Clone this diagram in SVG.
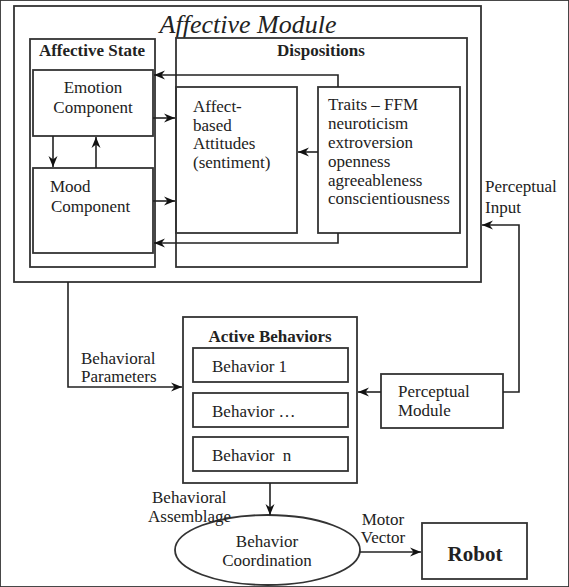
<svg xmlns="http://www.w3.org/2000/svg" width="569" height="587" viewBox="0 0 569 587" font-family="'Liberation Serif', 'DejaVu Serif', serif">
<style>
rect,ellipse{fill:none;stroke:#333;stroke-width:1.8}
.c path{fill:none;stroke:#222;stroke-width:1.6}
text{font-family:'Liberation Serif','DejaVu Serif',serif;font-size:17px;fill:#222}
.b{font-weight:bold;font-size:17px}
.m{text-anchor:middle}
</style>
<defs>
<marker id="a" markerWidth="12" markerHeight="10" refX="11" refY="5" orient="auto" markerUnits="userSpaceOnUse">
<path d="M0,0.5 L11,5 L0,9.5 L3.5,5 z" fill="#111"/>
</marker>
</defs>
<rect x="0" y="0" width="569" height="587" fill="#fff" stroke="none"/>
<g id="affective-module">
<rect x="14" y="6" width="467" height="276"/>
<text x="248" y="33" class="m" style="font-style:italic;font-size:26px">Affective Module</text>
</g>
<g id="affective-state">
<rect x="30" y="39" width="125" height="228"/>
<text x="92" y="56" class="m b">Affective State</text>
</g>
<g id="emotion">
<rect x="33" y="70" width="120" height="66"/>
<text x="93" y="93" class="m">Emotion</text>
<text x="93" y="113" class="m">Component</text>
</g>
<g id="mood">
<rect x="33" y="168" width="120" height="85"/>
<text x="50" y="192">Mood</text>
<text x="51" y="212">Component</text>
</g>
<g id="dispositions">
<rect x="176" y="38" width="291" height="229"/>
<text x="321" y="56" class="m b">Dispositions</text>
</g>
<g id="attitudes">
<rect x="176" y="87" width="121" height="146"/>
<text x="193" y="112">Affect-</text>
<text x="193" y="130.5">based</text>
<text x="193" y="149">Attitudes</text>
<text x="193" y="168">(sentiment)</text>
</g>
<g id="traits">
<rect x="318" y="87" width="142" height="146"/>
<text x="328" y="110">Traits – FFM</text>
<text x="328" y="129">neuroticism</text>
<text x="328" y="148">extroversion</text>
<text x="328" y="167">openness</text>
<text x="328" y="185.5">agreeableness</text>
<text x="328" y="204">conscientiousness</text>
</g>
<g id="active-behaviors">
<rect x="183" y="317" width="174" height="166"/>
<text x="270" y="342" class="m b">Active Behaviors</text>
</g>
<g id="behavior-1">
<rect x="193" y="348" width="155" height="34"/>
<text x="212" y="372">Behavior 1</text>
</g>
<g id="behavior-dots">
<rect x="193" y="393" width="155" height="34"/>
<text x="212" y="417">Behavior …</text>
</g>
<g id="behavior-n">
<rect x="193" y="437" width="155" height="34"/>
<text x="212" y="461" xml:space="preserve">Behavior  n</text>
</g>
<g id="perceptual-module">
<rect x="381" y="374" width="122" height="54"/>
<text x="398" y="397">Perceptual</text>
<text x="398" y="416">Module</text>
</g>
<g id="behavior-coordination">
<ellipse cx="267.5" cy="550" rx="92.5" ry="35"/>
<text x="267" y="547" class="m">Behavior</text>
<text x="267" y="566" class="m">Coordination</text>
</g>
<g id="robot">
<rect x="422" y="523" width="105" height="56"/>
<text x="475" y="561" class="m b" style="font-size:21px">Robot</text>
</g>
<g class="c" id="connectors">
<path d="M53,136 V167" marker-end="url(#a)"/>
<path d="M96,168 V137" marker-end="url(#a)"/>
<path d="M153,118 H175" marker-end="url(#a)"/>
<path d="M153,201 H175" marker-end="url(#a)"/>
<path d="M338,87 V75 H154" marker-end="url(#a)"/>
<path d="M338,233 V243 H154" marker-end="url(#a)"/>
<path d="M318,152 H298" marker-end="url(#a)"/>
<path d="M503,392 H519 V225 H482" marker-end="url(#a)"/>
<path d="M381,392 H358" marker-end="url(#a)"/>
<path d="M68,282 V387 H182" marker-end="url(#a)"/>
<path d="M270,483 V515" marker-end="url(#a)"/>
<path d="M360,552 H421" marker-end="url(#a)"/>
</g>
<g id="labels">
<text x="485" y="192">Perceptual</text>
<text x="485" y="213">Input</text>
<text x="81" y="364">Behavioral</text>
<text x="81" y="382">Parameters</text>
<text x="152" y="503">Behavioral</text>
<text x="148" y="522">Assemblage</text>
<text x="383" y="525" class="m">Motor</text>
<text x="383" y="543" class="m">Vector</text>
</g>
</svg>
